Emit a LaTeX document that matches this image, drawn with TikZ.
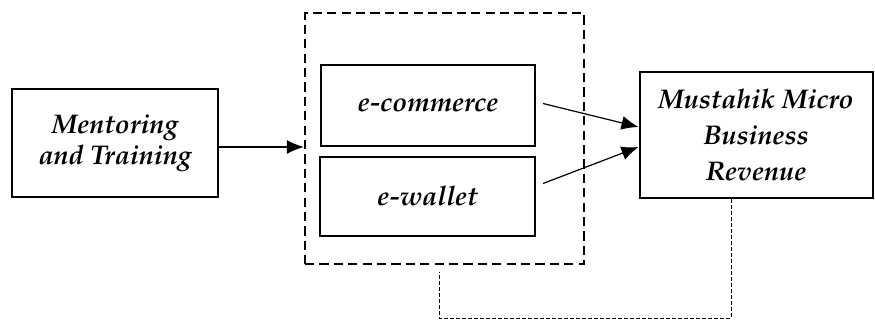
\documentclass[tikz,border=0pt]{standalone}
\usepackage[T1]{fontenc}
\usepackage{mathpazo}
\usetikzlibrary{arrows.meta}
\begin{document}
\begin{tikzpicture}[x=0.5pt,y=-0.5pt,
  box/.style={draw,line width=1pt,align=center,inner sep=0pt,
    font=\fontsize{13.5}{15.5}\selectfont\bfseries\itshape},
  grp/.style={draw,line width=1.2pt,dash pattern=on 4.6pt off 2.6pt,inner sep=0pt},
  arr/.style={line width=0.6pt,-{Latex[length=8.5pt,width=7pt]}},
  fbk/.style={line width=0.45pt,dash pattern=on 1.8pt off 1.2pt}]
\useasboundingbox (0,0) rectangle (875,322);
\node[box,minimum width=103pt,minimum height=54pt] (m) at (115,143) {Mentoring\\and Training};
\node[grp,minimum width=139.5pt,minimum height=125.5pt] (g) at (444.5,138.5) {};
\node[box,minimum width=107pt,minimum height=40.5pt] (e) at (428,105.5) {e-commerce};
\node[box,minimum width=107.5pt,minimum height=39.5pt] (w) at (427.5,196.5) {e-wallet};
\node[box,minimum width=116.5pt,minimum height=63pt,
  font=\fontsize{13.5}{18}\selectfont\bfseries\itshape] (r) at (756,135) {Mustahik Micro\\Business\\Revenue};
\coordinate (fb) at (439,318);
\draw[arr] ([yshift=-2pt]m.east) -- ([yshift=-2pt]m.east -| g.west);
\draw[arr] ([xshift=3.5pt,yshift=1pt]e.east) -- ([yshift=4pt]r.west);
\draw[arr] ([xshift=3.5pt,yshift=6.5pt]w.east) -- ([yshift=-6pt]r.west);
\draw[fbk] ([xshift=-12.5pt]r.south) |- (fb) -- ([yshift=-3.5pt]g.south -| fb);
\end{tikzpicture}
\end{document}
